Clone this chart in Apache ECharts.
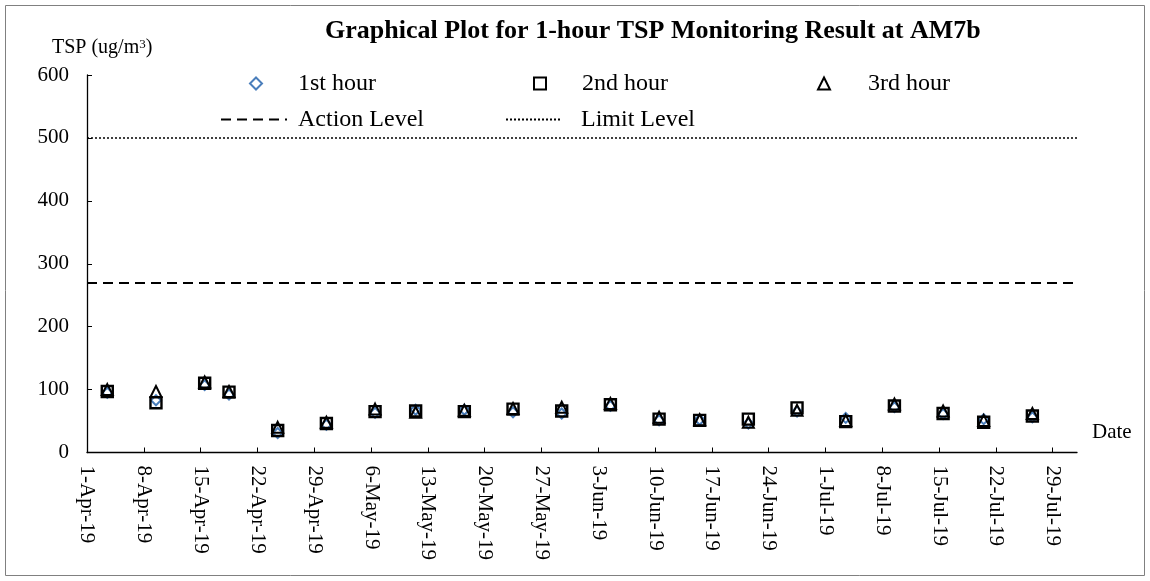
<!DOCTYPE html>
<html>
<head>
<meta charset="utf-8">
<script src="https://cdn.jsdelivr.net/npm/echarts@6/dist/echarts.min.js"></script>
<style>html,body{margin:0;padding:0;background:#fff;}#c{width:1150px;height:581px;}</style>
</head>
<body>
<div id="c"></div>
<script>
// ---- data ----
var sampleDates = ['2019-04-03','2019-04-09','2019-04-15','2019-04-18','2019-04-24','2019-04-30','2019-05-06','2019-05-11','2019-05-17','2019-05-23','2019-05-29','2019-06-04','2019-06-10','2019-06-15','2019-06-21','2019-06-27','2019-07-03','2019-07-09','2019-07-15','2019-07-20','2019-07-26'];
var hour1 = [95, 83, 107, 92, 31, 44, 63, 68, 68, 64, 62, 74, 51, 52, 46, 65, 55, 72, 61, 53, 56];
var hour2 = [97, 79, 110, 96, 35, 46, 65, 66, 65, 69, 66, 76, 53, 51, 53, 71, 49, 74, 62, 48, 58];
var hour3 = [100, 97, 112, 97, 40, 48, 69, 64, 67, 70, 72, 78, 56, 52, 48, 67, 51, 77, 66, 51, 62];
var actionLevel = 270;
var limitLevel = 500;
var xStart = '2019-04-01';
var xEnd = '2019-08-01';
var tickDates = ['2019-04-01','2019-04-08','2019-04-15','2019-04-22','2019-04-29','2019-05-06','2019-05-13','2019-05-20','2019-05-27','2019-06-03','2019-06-10','2019-06-17','2019-06-24','2019-07-01','2019-07-08','2019-07-15','2019-07-22','2019-07-29'];
var yTicks = [0, 100, 200, 300, 400, 500, 600];

// ---- helpers ----
var MONTHS = ['Jan','Feb','Mar','Apr','May','Jun','Jul','Aug','Sep','Oct','Nov','Dec'];
function dayOf(s) { return (Date.parse(s) - Date.parse(xStart)) / 86400000; }
function labelOf(d) {
  var t = new Date(Date.parse(xStart) + Math.round(d) * 86400000);
  return t.getUTCDate() + '-' + MONTHS[t.getUTCMonth()] + '-' + String(t.getUTCFullYear()).slice(2);
}
// Excel date axis places each date in the middle of its day slot
function pts(vals) { return sampleDates.map(function (s, i) { return [dayOf(s) + 0.5, vals[i]]; }); }
var tickDays = tickDates.map(dayOf);

var FONT = '"Liberation Serif", "Times New Roman", serif';
var chart = echarts.init(document.getElementById('c'), null, { renderer: 'canvas' });

function legendAt(name, left, top, w, h, pad, extra) {
  var o = {
    data: [name], left: left, top: top, orient: 'horizontal', padding: 0,
    itemWidth: w, itemHeight: h, selectedMode: false,
    textStyle: { fontFamily: FONT, fontSize: 24, color: '#000', lineHeight: 24, padding: [0, 0, 0, pad] }
  };
  if (extra) for (var k in extra) o[k] = extra[k];
  return o;
}

var option = {
  animation: false,
  backgroundColor: '#fff',
  title: [
    { text: 'Graphical Plot for 1-hour TSP Monitoring Result at AM7b', left: 325, top: 18, padding: 0,
      textStyle: { fontFamily: FONT, fontSize: 26, fontWeight: 'bold', color: '#000', lineHeight: 26 } },
    { text: 'TSP (ug/m{s|3})', left: 52, top: 38, padding: 0,
      textStyle: { fontFamily: FONT, fontSize: 20, fontWeight: 'normal', color: '#000', lineHeight: 20,
        rich: { s: { fontFamily: FONT, fontSize: 13, color: '#000', verticalAlign: 'top', lineHeight: 20, padding: [0, 0, 8, 0] } } } }
  ],
  legend: [
    legendAt('1st hour', 249, 71.5, 12, 12, 31),
    legendAt('2nd hour', 533, 71.5, 12, 12, 31),
    legendAt('3rd hour', 817, 71.5, 12, 12, 33),
    legendAt('Action Level', 220, 107.5, 66, 12, 6, { itemStyle: { opacity: 0 } }),
    legendAt('Limit Level', 505, 107.5, 54, 12, 16, { itemStyle: { opacity: 0 } })
  ],
  grid: { left: 87, right: 73, top: 75, bottom: 128.5, containLabel: false, outerBoundsMode: 'none' },
  xAxis: {
    type: 'value', min: dayOf(xStart), max: dayOf(xEnd),
    name: 'Date', nameLocation: 'end', nameGap: 15,
    nameTextStyle: { fontFamily: FONT, fontSize: 21, color: '#000', verticalAlign: 'bottom', lineHeight: 21, padding: [0, 0, 10, 0] },
    splitLine: { show: false },
    axisLine: { show: true, onZero: false, lineStyle: { color: '#000', width: 1.3 } },
    axisTick: { show: true, inside: true, length: 5, customValues: tickDays, lineStyle: { color: '#000', width: 1 } },
    axisLabel: { show: true, rotate: -90, margin: 13, customValues: tickDays,
      fontFamily: FONT, fontSize: 21, color: '#000', formatter: function (v) { return labelOf(v); } }
  },
  yAxis: {
    type: 'value', min: yTicks[0], max: yTicks[yTicks.length - 1], interval: yTicks[1] - yTicks[0],
    splitLine: { show: false },
    axisLine: { show: true, lineStyle: { color: '#000', width: 1.3 } },
    axisTick: { show: true, inside: true, length: 5, lineStyle: { color: '#000', width: 1 } },
    axisLabel: { margin: 18, fontFamily: FONT, fontSize: 21, color: '#000' }
  },
  series: [
    { name: '1st hour', type: 'scatter', data: pts(hour1), symbol: 'diamond', symbolSize: 10,
      itemStyle: { color: 'rgba(0,0,0,0)', borderColor: '#4a7ebb', borderWidth: 2, opacity: 1 } },
    { name: '2nd hour', type: 'scatter', data: pts(hour2), symbol: 'rect', symbolSize: 11,
      itemStyle: { color: 'rgba(0,0,0,0)', borderColor: '#000', borderWidth: 2.4, opacity: 1 } },
    { name: '3rd hour', type: 'scatter', data: pts(hour3), symbol: 'triangle', symbolSize: 11,
      itemStyle: { color: 'rgba(0,0,0,0)', borderColor: '#000', borderWidth: 2, opacity: 1 } },
    { name: 'Action Level', type: 'line', data: [], symbol: 'none', showSymbol: false,
      lineStyle: { color: '#000', width: 2, type: [10, 6] }, itemStyle: { color: '#000' },
      markLine: { silent: true, symbol: ['none', 'none'], label: { show: false },
        lineStyle: { color: '#000', width: 2, type: [10, 6] }, data: [{ yAxis: actionLevel }] } },
    { name: 'Limit Level', type: 'line', data: [], symbol: 'none', showSymbol: false,
      lineStyle: { color: '#000', width: 1.6, type: [2, 2] }, itemStyle: { color: '#000' },
      markLine: { silent: true, symbol: ['none', 'none'], label: { show: false },
        lineStyle: { color: '#000', width: 1.6, type: [2, 2] }, data: [{ yAxis: limitLevel }] } }
  ],
  graphic: [
    { type: 'rect', silent: true, z: -1, shape: { x: 5.5, y: 5.5, width: 1139, height: 570 },
      style: { fill: 'none', stroke: '#808080', lineWidth: 1 } }
  ]
};
chart.setOption(option);
</script>
</body>
</html>
